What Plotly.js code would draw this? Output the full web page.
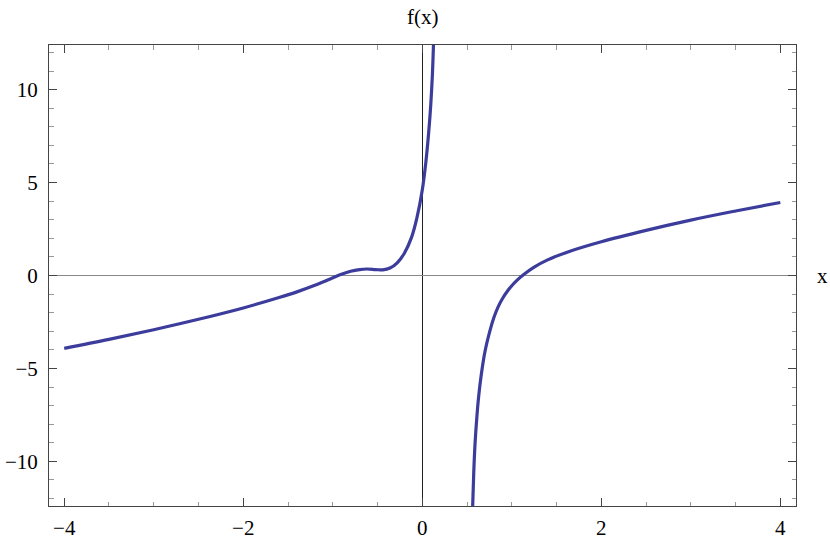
<!DOCTYPE html>
<html>
<head>
<meta charset="utf-8">
<script src="https://cdn.plot.ly/plotly-3.0.1.min.js"></script>
<style>html,body{margin:0;padding:0;background:#fff;}#chart{width:830px;height:543px;}</style>
</head>
<body>
<div id="chart"></div>
<script>
// Left branch of f(x)
const xLeft = [-4.0, -3.5, -3.0, -2.5, -2.0, -1.6, -1.4, -1.2, -1.05, -0.92, -0.8, -0.7, -0.62, -0.52, -0.44, -0.36, -0.28, -0.2, -0.12, -0.06, 0.0, 0.04, 0.07, 0.095, 0.113, 0.125];
const yLeft = [-3.92, -3.435, -2.915, -2.355, -1.745, -1.185, -0.88, -0.53, -0.23, 0.04, 0.23, 0.32, 0.35, 0.32, 0.3, 0.4, 0.68, 1.2, 2.05, 3.1, 4.6, 6.1, 7.6, 9.2, 10.8, 12.4];
// Right branch of f(x)
const xRight = [0.563, 0.575, 0.59, 0.61, 0.63, 0.66, 0.7, 0.76, 0.8, 0.85, 0.9, 0.95, 1.0, 1.06, 1.13, 1.25, 1.4, 1.65, 2.0, 2.5, 3.0, 3.5, 4.0];
const yRight = [-12.4, -10.6, -9.0, -7.6, -6.5, -5.3, -4.1, -2.9, -2.26, -1.66, -1.21, -0.85, -0.55, -0.25, 0.04, 0.45, 0.84, 1.31, 1.82, 2.43, 2.98, 3.47, 3.93];

const xTickVals = [-4, -2, 0, 2, 4];
const yTickVals = [-10, -5, 0, 5, 10];
const xTitle = 'x';
const yTitle = 'f(x)';

const lineStyle = {color: '#3c3c9c', width: 3.2, shape: 'spline', smoothing: 1};
const traces = [
  {x: xLeft, y: yLeft, mode: 'lines', line: lineStyle, hoverinfo: 'skip'},
  {x: xRight, y: yRight, mode: 'lines', line: lineStyle, hoverinfo: 'skip'}
];

const serif = '"Liberation Serif", "Times New Roman", Times, serif';
const axisCommon = {
  showgrid: false,
  showline: true, mirror: 'ticks', linecolor: '#444', linewidth: 1,
  ticks: 'inside', ticklen: 8, tickcolor: '#444', tickwidth: 1,
  zeroline: true, zerolinewidth: 1,
  tickfont: {family: serif, size: 21, color: '#000'},
  fixedrange: true
};

const layout = {
  width: 830, height: 543,
  margin: {l: 49, r: 34, t: 45, b: 37},
  paper_bgcolor: '#fff', plot_bgcolor: '#fff',
  showlegend: false,
  xaxis: Object.assign({}, axisCommon, {
    range: [-4.17, 4.175],
    tickmode: 'array', tickvals: xTickVals,
    zerolinecolor: '#222',
    minor: {dtick: 0.5, tick0: 0, ticks: 'inside', ticklen: 4.5, tickcolor: '#999', tickwidth: 1},
    ticklabelstandoff: 3
  }),
  yaxis: Object.assign({}, axisCommon, {
    range: [-12.4, 12.4],
    tickmode: 'array', tickvals: yTickVals,
    zerolinecolor: '#888',
    minor: {dtick: 1, tick0: 0, ticks: 'inside', ticklen: 4.5, tickcolor: '#999', tickwidth: 1},
    ticklabelstandoff: 6
  }),
  annotations: [
    {text: yTitle, xref: 'x', x: 0, yref: 'paper', y: 1, yanchor: 'bottom', yshift: 14, showarrow: false,
     font: {family: serif, size: 21, color: '#000'}},
    {text: xTitle, xref: 'paper', x: 1, xanchor: 'left', xshift: 19, yref: 'y', y: 0, yanchor: 'middle', showarrow: false,
     font: {family: serif, size: 21, color: '#000'}}
  ]
};

Plotly.newPlot('chart', traces, layout, {displayModeBar: false, staticPlot: true});
</script>
</body>
</html>
